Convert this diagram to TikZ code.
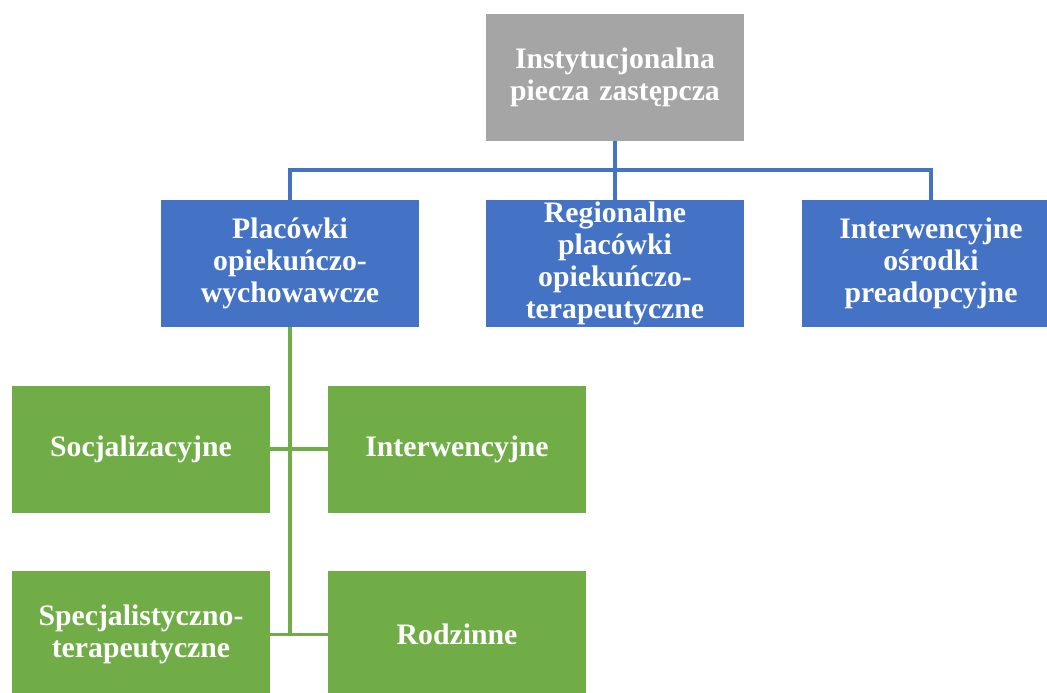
\documentclass[tikz,border=0pt]{standalone}
\usepackage{fontspec}
\setmainfont{Liberation Serif}
\definecolor{topgray}{HTML}{A5A5A5}
\definecolor{unitblue}{HTML}{4472C4}
\definecolor{unitgreen}{HTML}{70AD47}

\begin{document}
\begin{tikzpicture}[x=0.75pt,y=-0.75pt,
	unit/.style={minimum width=193.5pt,minimum height=95.25pt,inner sep=0pt,
		text width=185pt,align=center,text=white,
		font=\fontsize{22.3}{24}\selectfont\bfseries},
	graybox/.style={unit,fill=topgray},
	bluebox/.style={unit,fill=unitblue},
	greenbox/.style={unit,fill=unitgreen},
	bluelink/.style={draw=unitblue,line width=2.4pt},
	greenlink/.style={draw=unitgreen,line width=2.4pt}]
		\clip (0,0) rectangle (1047,693);

		% top
		\node [graybox] (inst) at (615,77.5) {Instytucjonalna\\piecza zastępcza};

		% second level
		\node [bluebox] (plac) at (290,263.5) {Placówki\\opiekuńczo-\\wychowawcze};
		\node [bluebox] (reg) at (615,263.5) {Regionalne\\placówki\\opiekuńczo-\\terapeutyczne};
		\node [bluebox] (osr) at (931,263.5) {Interwencyjne\\ośrodki\\preadopcyjne};

		% third level
		\node [greenbox] (soc) at (141,449) {Socjalizacyjne};
		\node [greenbox] (intw) at (457,449) {Interwencyjne};
		\node [greenbox] (spec) at (141,634.5) {Specjalistyczno-\\terapeutyczne};
		\node [greenbox] (rodz) at (457,634.5) {Rodzinne};

		% blue links
		\coordinate (bus) at (615,170);
		\draw [bluelink] (inst.south) -- (bus);
		\draw [bluelink] (bus) -| (plac.north);
		\draw [bluelink] (bus) -- (reg.north);
		\draw [bluelink] (bus) -| (osr.north);

		% green links
		\draw [greenlink] (plac.south) -- (plac.south |- rodz.west);
		\draw [greenlink] (soc.east) -- (intw.west);
		\draw [greenlink] (spec.east) -- (rodz.west);

\end{tikzpicture}
\end{document}
